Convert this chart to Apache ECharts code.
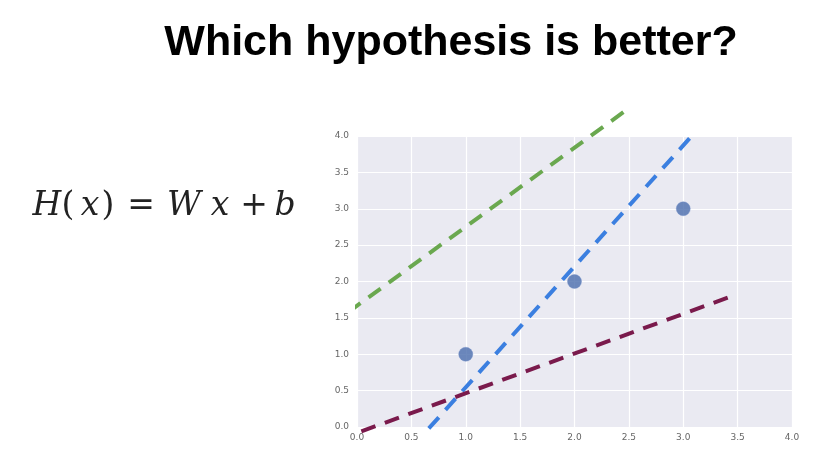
<!DOCTYPE html>
<html>
<head>
<meta charset="utf-8">
<script src="https://cdn.jsdelivr.net/npm/echarts@6/dist/echarts.min.js"></script>
<style>
  html, body { margin: 0; padding: 0; background: #fff; }
  #chart { width: 823px; height: 464px; }
</style>
</head>
<body>
<div id="chart"></div>
<script>
// data points (x, y)
const points = [[1.0, 1.0], [2.0, 2.0], [3.0, 3.0]]

// hand drawn hypothesis lines, start and end
const greenLine = [[-0.08, 1.58], [2.48, 4.36]]
const blueLine = [[0.66, -0.02], [3.06, 3.97]]
const purpleLine = [[0.04, -0.06], [3.43, 1.79]]

const axisMin = 0
const axisMax = 4
const tickStep = 0.5

// formula glyphs: text, italic, centre x
const formula = [
    ['H', true, 47], ['(', false, 68], ['x', true, 90], [')', false, 108],
    ['=', false, 141], ['W', true, 184], ['x', true, 220], ['+', false, 254],
    ['b', true, 285]
]

const myChart = echarts.init(document.getElementById('chart'))

const dashed = (data, color) => ({
    type: 'line',
    data: data,
    symbol: 'none',
    clip: false,
    silent: true,
    z: 3,
    lineStyle: { color: color, width: 4, type: [15, 10] }
})

const axisCommon = {
    type: 'value',
    min: axisMin,
    max: axisMax,
    interval: tickStep,
    axisLine: { show: false },
    axisTick: { show: false },
    splitLine: { show: true, lineStyle: { color: '#ffffff', width: 1.2 } },
    axisLabel: {
        color: '#666',
        fontSize: 9,
        fontFamily: 'DejaVu Sans',
        formatter: v => v.toFixed(1)
    }
}

myChart.setOption({
    animation: false,
    title: {
        text: 'Which hypothesis is better?',
        left: 446,
        top: 17,
        textAlign: 'center',
        textStyle: {
            fontFamily: 'Liberation Sans',
            fontWeight: 'bold',
            fontSize: 43,
            color: '#000'
        }
    },
    grid: {
        left: 357,
        right: 31,
        top: 136,
        bottom: 37,
        show: true,
        backgroundColor: '#eaeaf2',
        borderWidth: 0
    },
    xAxis: Object.assign({}, axisCommon, {
        axisLabel: Object.assign({}, axisCommon.axisLabel, { margin: 6 })
    }),
    yAxis: Object.assign({}, axisCommon, {
        axisLabel: Object.assign({}, axisCommon.axisLabel, { margin: 8 })
    }),
    graphic: formula.map(([t, italic, cx]) => ({
        type: 'text',
        x: cx,
        y: 206,
        style: {
            text: t,
            fontFamily: 'DejaVu Serif',
            fontStyle: italic ? 'italic' : 'normal',
            fontSize: 33,
            fill: '#222',
            align: 'center',
            verticalAlign: 'middle'
        }
    })),
    series: [
        dashed(greenLine, '#6aa84f'),
        dashed(blueLine, '#3b7fe0'),
        dashed(purpleLine, '#7a1a4c'),
        {
            type: 'scatter',
            data: points,
            symbolSize: 14,
            z: 4,
            itemStyle: {
                color: '#4a6dad',
                borderColor: 'rgba(110,140,200,0.5)',
                borderWidth: 1
            }
        }
    ]
})
</script>
</body>
</html>
